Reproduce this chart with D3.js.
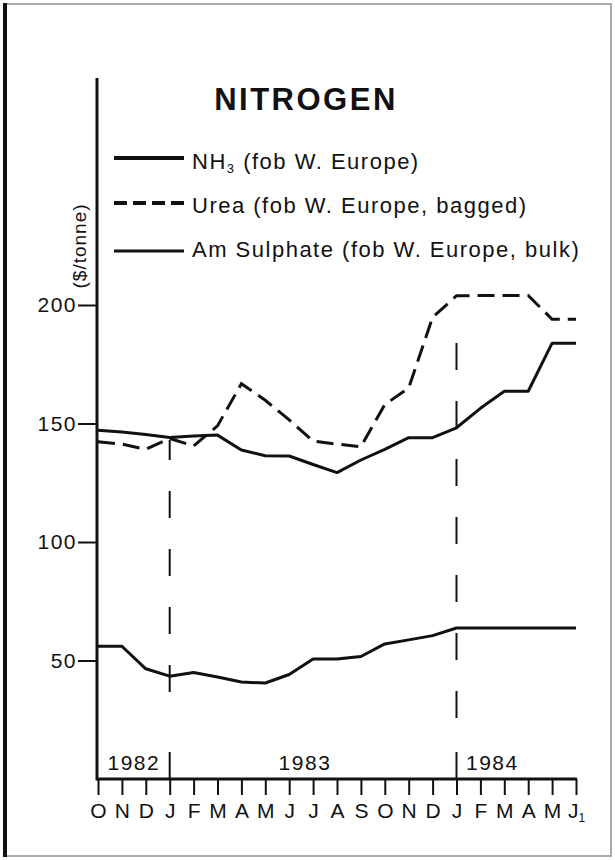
<!DOCTYPE html>
<html>
<head>
<meta charset="utf-8">
<script src="https://cdn.jsdelivr.net/npm/d3@7"></script>
<style>
  body { margin: 0; background: #fff; }
  text { font-family: "Liberation Sans", Arial, sans-serif; fill: #111; }
  .axis path { display: none; }
  .axis line { stroke: #111; stroke-width: 2; }
</style>
</head>
<body>
<svg id="chart"></svg>
<script>
// 月份 (1982年10月 - 1984年6月)
const months = ["O","N","D","J","F","M","A","M","J","J","A","S","O","N","D","J","F","M","A","M","J"];
const yearLabels = ["1982", "1983", "1984"];
const yearStarts = [0, 3, 15]; // 每年第一个月的索引
const yTicks = [50, 100, 150, 200];

// $/tonne
const nh3 = [147.2, 146.4, 145.4, 144.1, 144.7, 145.1, 138.8, 136.4, 136.3, 132.7, 129.3, 134.6, 139.1, 144, 144, 148.2, 156.4, 163.6, 163.6, 183.9, 183.9];
const urea = [142.3, 141.3, 139.1, 143.7, 140.5, 149, 166.8, 159.8, 151.5, 142.6, 141.3, 140.2, 158, 165, 194.8, 203.9, 204, 204, 204, 194, 194];
const amSulphate = [56, 56, 46.5, 43.4, 44.9, 43, 40.9, 40.5, 44.1, 50.6, 50.6, 51.7, 57, 58.7, 60.5, 63.7, 63.7, 63.7, 63.7, 63.7, 63.7];

const legendItems = [
  { name: "NH", sub: "3", rest: " (fob W. Europe)", dash: null, sw: 4 },
  { name: "Urea (fob W. Europe, bagged)", sub: null, rest: "", dash: "13,6", sw: 4 },
  { name: "Am Sulphate (fob W. Europe, bulk)", sub: null, rest: "", dash: null, sw: 3 },
];

const W = 615, H = 860;
const svg = d3.select("#chart").attr("width", W).attr("height", H);

// 边框
svg.append("rect").attr("x", 4).attr("y", 4).attr("width", W - 8).attr("height", H - 8)
  .attr("fill", "none").attr("stroke", "#aaa").attr("stroke-width", 2);
svg.append("line").attr("x1", 5).attr("x2", 5).attr("y1", 3).attr("y2", H - 3)
  .attr("stroke", "#111").attr("stroke-width", 4);

const x = d3.scaleLinear().domain([0, months.length - 1]).range([98, 576]);
const y = d3.scaleLinear().domain([0, 200]).range([779, 305]);
const axisX = 97, axisTop = 78;

// 标题
svg.append("text").attr("x", 306).attr("y", 110).attr("text-anchor", "middle")
  .style("font-size", "31px").style("font-weight", "bold").style("letter-spacing", "2.5px")
  .text("NITROGEN");

// Y轴
const yAxis = svg.append("g").attr("class", "axis")
  .attr("transform", `translate(${axisX},0)`)
  .call(d3.axisLeft(y).tickValues(yTicks).tickSize(19).tickPadding(1));
yAxis.selectAll("text").style("font-size", "21px").style("letter-spacing", "1.5px");

svg.append("line").attr("x1", axisX).attr("x2", axisX).attr("y1", axisTop).attr("y2", y(0) + 1.5)
  .attr("stroke", "#111").attr("stroke-width", 3);

svg.append("text").attr("transform", "translate(86,246) rotate(-90)")
  .attr("text-anchor", "middle")
  .style("font-size", "19px").style("letter-spacing", "1px")
  .text("($/tonne)");

// X轴
const xAxis = svg.append("g").attr("class", "axis")
  .attr("transform", `translate(0,${y(0)})`)
  .call(d3.axisBottom(x).tickValues(d3.range(months.length)).tickFormat((i) => months[i])
    .tickSize(16).tickPadding(8));
xAxis.selectAll("text").style("font-size", "21px");
xAxis.selectAll(".tick").filter((d) => d === months.length - 1).select("text")
  .append("tspan").attr("dy", "0.35em").style("font-size", "12px").text("1");

svg.append("line").attr("x1", axisX).attr("x2", x(months.length - 1) + 1).attr("y1", y(0)).attr("y2", y(0))
  .attr("stroke", "#111").attr("stroke-width", 3);

// 年份分隔线
const dividerTop = [440, 338];
const dividerDashEnd = [692, 718];
yearStarts.slice(1).forEach((s, i) => {
  svg.append("line").attr("x1", x(s)).attr("x2", x(s))
    .attr("y1", dividerDashEnd[i]).attr("y2", dividerTop[i])
    .attr("stroke", "#111").attr("stroke-width", 2).attr("stroke-dasharray", "27,31");
  svg.append("line").attr("x1", x(s)).attr("x2", x(s))
    .attr("y1", y(0)).attr("y2", y(0) - 27)
    .attr("stroke", "#111").attr("stroke-width", 2);
});

// 年份标签
const yearPos = [1.5, 8.66, 16.5];
yearLabels.forEach((lab, i) => {
  svg.append("text").attr("x", x(yearPos[i])).attr("y", 770).attr("text-anchor", "middle")
    .style("font-size", "21px").style("letter-spacing", "1.5px").text(lab);
});

// 折线
const line = d3.line().x((d, i) => x(i)).y((d) => y(d));

svg.append("path").datum(nh3).attr("d", line)
  .attr("fill", "none").attr("stroke", "#111").attr("stroke-width", 3).attr("stroke-linejoin", "round");
svg.append("path").datum(urea).attr("d", line)
  .attr("fill", "none").attr("stroke", "#111").attr("stroke-width", 3).attr("stroke-dasharray", "17,8");
svg.append("path").datum(amSulphate).attr("d", line)
  .attr("fill", "none").attr("stroke", "#111").attr("stroke-width", 3).attr("stroke-linejoin", "round");

// 图例
const legendRows = [158, 203, 251];
const textRows = [169, 213, 257];
legendItems.forEach((it, i) => {
  svg.append("line").attr("x1", 114).attr("x2", 184).attr("y1", legendRows[i]).attr("y2", legendRows[i])
    .attr("stroke", "#111").attr("stroke-width", it.sw)
    .attr("stroke-dasharray", it.dash);
  const t = svg.append("text").attr("x", 192).attr("y", textRows[i])
    .style("font-size", "22px").style("letter-spacing", "1.5px");
  t.append("tspan").text(it.name);
  if (it.sub) {
    t.append("tspan").attr("dy", "0.3em").style("font-size", "13px").text(it.sub);
    t.append("tspan").attr("dy", "-0.18em").text(it.rest);
  }
});
</script>
</body>
</html>
